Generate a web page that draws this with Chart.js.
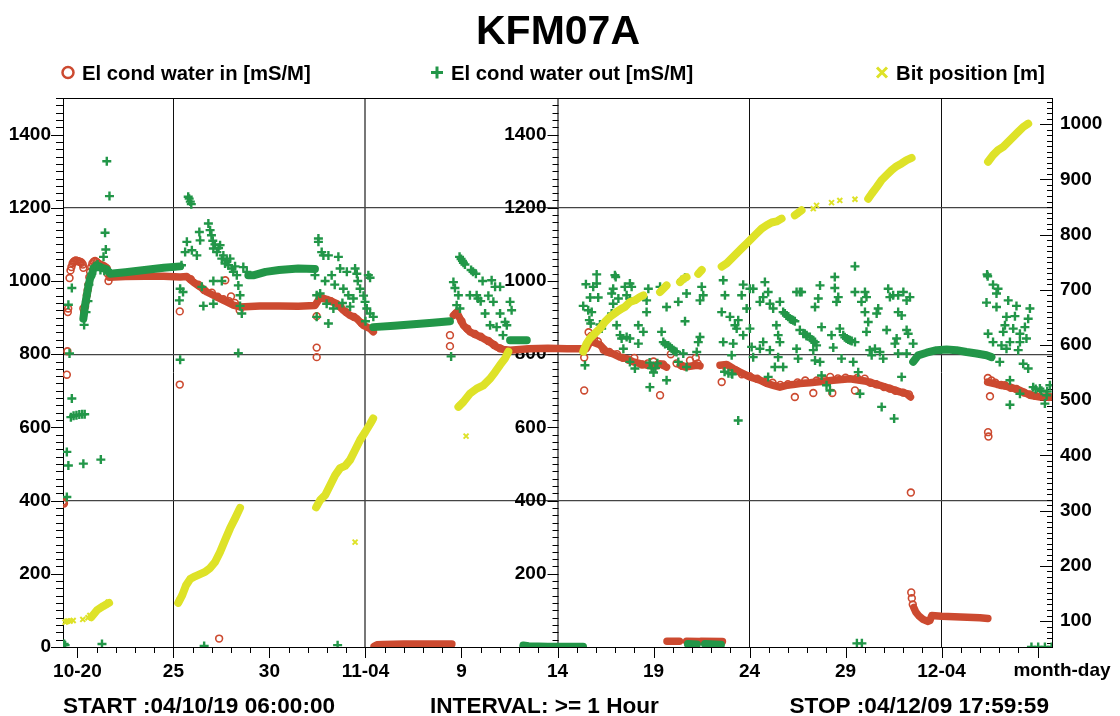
<!DOCTYPE html>
<html>
<head>
<meta charset="utf-8">
<title>KFM07A</title>
<script src="https://cdn.jsdelivr.net/npm/chart.js@4.4.1/dist/chart.umd.min.js"></script>
<style>
  html, body { margin: 0; padding: 0; background: #fff; }
  canvas { display: block; }
</style>
</head>
<body>
<canvas id="chart" width="1120" height="716"></canvas>
<script>
// x values are days after 2004-10-19 00:00 (0.25 = start 06:00)
const titleText = 'KFM07A';
const seriesNames = ['El cond water in [mS/M]', 'El cond water out [mS/M]', 'Bit position [m]'];
const footerTexts = ['START :04/10/19 06:00:00', 'INTERVAL: >= 1 Hour', 'STOP :04/12/09 17:59:59'];
const labelDays = [1, 6, 11, 16, 21, 26, 31, 36, 41, 46];
const dayTickLabels = ['10-20', '25', '30', '11-04', '9', '14', '19', '24', '29', '12-04'];
const gridDays = [6, 16, 26, 36, 46];
const leftTicks = [0, 200, 400, 600, 800, 1000, 1200, 1400];
const gridValues = [400, 800, 1200];
const rightTicks = [100, 200, 300, 400, 500, 600, 700, 800, 900, 1000];

// El cond water in - single readings
const condInPoints = [
  [0.26,394],[0.27,398],[0.30,392],[0.45,744],[0.48,808],[0.50,915],[0.52,925],[0.59,1008],[0.64,1029],[0.69,1038],[0.75,1048],
  [0.80,1052],[0.86,1055],[0.92,1056],[0.98,1055],[1.04,1054],[1.10,1053],[1.16,1052],[1.22,1050],[1.28,1045],[1.31,1036],
  [1.31,925],[1.35,915],[1.40,930],[1.45,945],[1.49,961],[1.53,975],[1.57,990],[1.62,1010],[1.66,1025],[1.72,1038],[1.78,1048],
  [1.85,1053],[1.92,1055],[2.00,1052],[2.08,1048],[2.16,1045],[2.24,1043],[2.32,1042],[2.40,1040],[2.48,1036],[2.53,1034],[2.58,1020],[2.62,1000],
  [6.33,917],[6.33,717],[8.38,23],[8.70,1002],[9.00,958],[9.45,920],[13.46,904],[13.46,818],[13.46,792],[20.40,852],[20.40,822],
  [27.39,791],[27.39,701],[31.34,688],[34.55,724],[38.36,683],[39.32,694],[40.31,694],[41.49,701],[44.40,422],
  [48.41,735],[48.52,685],[48.42,587],[48.44,575],[44.42,149],[44.45,133],[44.50,116],
  [6.9,1005],[7.3,990],[7.6,975],[8.0,968],[8.3,957],[8.6,950],[8.9,945],[9.2,940],[14.2,945],[14.7,930],[15.0,915],[15.4,902],[15.8,885],
  [20.7,910],[21.0,890],[21.3,870],[21.7,855],[22.0,848],[22.4,836],[22.7,825],[23.0,816],
  [27.62,860],[27.75,850],[27.9,842],[28.1,835],[28.4,812],[28.7,806],[29.1,800],[29.4,790],[29.7,785],[30.0,790],[30.4,772],[30.7,775],
  [31.0,780],[31.2,770],[31.5,772],[31.9,800],[32.2,775],[32.5,768],[32.9,783],[33.2,790],[33.3,775],
  [34.8,760],[35.3,755],[35.6,745],[36.0,740],[36.4,733],[36.8,725],[37.2,722],[37.6,716],[38.0,718],[38.5,723],[38.9,728],[39.5,728],
  [39.9,730],[40.2,738],[40.6,734],[41.0,736],[41.6,735],[42.0,733],[42.3,722],[42.6,718],[43.0,710],[43.3,706],[43.6,700],[44.0,695],[44.3,690],
  [48.6,728],[48.8,722],[49.1,716],[49.3,715],[49.6,708],[49.9,705],[50.3,695],[50.6,690],[50.9,686],[51.3,690],[51.6,683]
];
// El cond water in - dense hourly runs (null = gap)
const condInRuns = [
  [2.66,1010],[3.5,1012],[4.5,1013],[5.5,1013],[6.35,1011],[6.70,1012],[7.04,997],[7.39,984],[7.74,970],[8.08,961],[8.43,952],[8.78,943],
  [9.12,934],[9.47,929],[10.5,932],[11.5,932],[12.5,931],[13.37,933],[13.64,955],[13.98,950],[14.51,938],[14.85,920],[15.20,906],
  [15.55,897],[15.89,879],[16.24,870],[16.41,861], null,
  [16.45,2],[16.6,6],[16.9,7],[18.0,8],[19.0,8],[20.5,8], null,
  [20.58,906],[20.75,915],[21.10,879],[21.44,861],[21.79,852],[22.14,843],[22.49,833],[22.83,820],[23.18,813],[23.53,811],[24.5,815],
  [25.5,816],[26.5,815],[27.5,815],[27.7,835],[27.9,832],[28.2,826],[28.56,806],[28.90,801],[29.25,792],[29.60,788],[29.95,779],
  [30.30,774],[30.64,770],[30.99,768],[31.33,774],[31.68,765], null,
  [32.38,770],[32.64,765],[33.25,770],[33.42,768], null,
  [34.46,770],[34.81,772],[35.15,761],[35.50,751],[35.85,742],[36.19,735],[36.54,729],[36.89,720],[37.23,715],[37.58,710],[37.93,715],
  [38.27,717],[38.62,720],[39.14,722],[39.49,724],[40.36,729],[41.23,733],[42.09,726],[42.79,715],[43.31,706],[43.83,697],[44.18,692],[44.38,683], null,
  [31.70,16],[32.35,16], null, [32.72,16],[33.38,15], null, [33.47,16],[34.59,15], null,
  [44.55,108],[44.65,96],[44.8,86],[45.05,75],[45.3,70],[45.39,72],[45.49,86],[46.0,84],[47.0,82],[48.0,80],[48.41,78], null,
  [48.40,724],[48.86,718],[49.56,710],[50.08,701],[50.60,688],[51.13,683],[51.73,683]
];

// El cond water out - single readings
const condOutPoints = [
  [0.26,5],[0.31,8],[0.36,5],[0.45,533],[0.53,496],[0.45,410],[0.53,935],[0.59,802],[0.71,981],[0.71,679],
  [0.66,628],[0.80,632],[0.95,633],[1.10,635],[1.25,636],[1.38,636],[1.31,501],[2.22,512],[2.28,8],
  [1.35,880],[1.45,915],[1.55,945],[1.60,990],[1.75,1020],[1.90,1040],[2.05,1045],[2.20,1030],[2.40,1028],
  [2.53,1327],[2.67,1232],[2.44,1132],[2.48,1086],[2.36,1066],
  [6.31,947],[6.35,979],[6.35,785],[6.42,1043],[6.50,970],[6.61,1079],[6.70,1107],[6.77,1230],[6.82,1225],[6.88,1217],[6.93,1210],
  [6.96,1084],[7.22,1070],[7.35,1134],[7.39,1111],[7.48,984],[7.56,932],[7.60,3],
  [7.82,1157],[7.91,1139],[7.98,1125],[8.05,1110],[8.08,1089],[8.16,1100],[8.26,1079],[8.35,1090],[8.43,1098],[8.52,1061],[8.60,1070],
  [8.69,1048],[8.78,1056],[8.86,1043],[8.95,1061],[9.04,1034],[9.12,1025],[9.21,1040],[9.30,1016],[9.38,988],[9.38,803],[9.47,961],
  [9.47,932],[9.56,911],[9.64,1038],[9.82,1025],[8.08,938],[8.08,1000],[8.52,1000],
  [13.37,1016],[13.46,961],[13.46,902],[13.55,1116],[13.55,1107],[13.64,966],[13.72,1079],[13.81,1070],[13.90,1000],[13.98,938],
  [14.07,1070],[14.07,884],[14.24,1016],[14.33,925],[14.40,990],[14.55,5],[14.59,1066],[14.68,1034],[14.80,940],[14.85,979],[15.03,1025],
  [15.11,961],[15.20,930],[15.37,952],[15.46,1034],[15.55,1020],[15.60,1000],[15.72,979],[15.90,960],[15.98,943],[16.00,890],[16.07,925],
  [16.15,1016],[16.24,1009],[16.24,911],[16.41,902],
  [20.46,794],[20.58,997],[20.66,981],[20.75,934],[20.84,961],[20.90,1066],[20.92,925],[20.98,1060],[21.05,1055],[21.10,1050],[21.18,1045],
  [21.44,961],[21.50,1030],[21.60,1025],[21.75,1020],[21.79,961],[21.86,952],[22.00,945],[22.23,911],[22.49,879],[22.57,1002],[22.66,943],
  [22.75,984],[22.83,874],[23.01,984],[23.01,911],[23.16,852],[23.27,888],[23.36,879],[23.53,943],[23.61,920],[22.40,960],[22.10,1000],
  [27.34,932],[27.43,770],[27.48,991],[27.60,920],[27.66,893],[27.70,955],[27.73,884],[27.78,915],[27.86,984],[28.04,1018],[28.04,993],
  [28.12,955],[28.21,881],[28.30,870],[28.82,966],[28.82,911],[28.90,979],[28.90,938],[28.99,1016],[29.03,1011],[29.08,879],[29.17,952],
  [29.26,852],[29.34,843],[29.43,815],[29.51,984],[29.60,961],[29.60,847],[29.77,993],[29.77,952],[29.77,843],[29.77,779],[29.86,984],
  [30.03,761],[30.21,879],[30.21,829],[30.47,861],[30.64,915],[30.64,947],[30.73,979],[30.81,710],
  [30.80,777],[30.90,762],[31.00,750],[31.10,762],[31.20,775],
  [31.34,984],[31.42,861],[31.51,833],[31.60,828],[31.68,929],[31.68,729],[31.77,824],[31.86,820],[31.95,815],[32.03,811],[32.12,808],
  [32.20,806],[32.29,943],[32.29,779],[32.46,1002],[32.55,802],[32.64,1009],[32.64,890],[32.72,966],[32.72,765],[33.25,806],[33.33,833],
  [33.42,847],[33.42,947],[33.51,984],[33.59,961],
  [34.55,915],[34.63,1002],[34.63,833],[34.70,752],[34.72,961],[34.90,748],[34.98,902],[35.07,797],[35.07,747],[35.10,745],[35.15,829],
  [35.24,879],[35.33,870],[35.41,893],[35.41,619],[35.59,961],[35.67,990],[35.67,852],[35.85,925],[36.02,979],[36.02,870],[36.11,820],
  [36.19,979],[36.19,792],[36.54,943],[36.54,815],[36.71,956],[36.71,833],[36.80,997],[36.97,970],[36.97,738],[37.06,938],[37.06,811],
  [37.23,925],[37.32,765],[37.40,879],[37.49,852],[37.49,792],[37.58,943],[37.58,833],[37.75,915],[37.75,765],[37.84,911],[37.93,906],
  [38.01,902],[38.10,897],[38.18,895],[38.27,893],[38.36,890],[38.45,970],[38.45,815],[38.53,788],[38.62,970],[38.80,856],[38.97,852],
  [38.71,970],[38.62,866],[38.88,856],[38.97,850],[39.14,847],[39.23,840],[39.32,836],[39.41,833],[39.41,929],[39.49,824],[39.67,988],
  [39.67,779],[39.58,952],[39.75,874],[39.75,742],[39.32,811],[39.41,783],[40.01,715],[40.19,701],[40.27,852],[40.36,818],[40.44,1011],
  [40.44,981],[40.53,943],[40.62,956],[40.70,870],[40.79,788],[40.88,852],[40.96,846],[41.05,843],[41.14,840],[41.23,838],[41.32,836],
  [41.49,833],[41.49,1040],[41.49,970],[41.40,779],[41.66,751],[41.75,692],[41.83,943],[42.01,970],[42.01,915],[42.09,956],[42.09,861],
  [42.18,888],[42.26,811],[42.36,797],[42.53,815],[42.62,911],[42.70,925],[42.79,806],[42.88,656],[42.96,788],[43.14,866],[43.22,979],
  [43.31,956],[43.48,961],[43.53,624],[43.57,829],[43.66,843],[43.74,961],[43.74,915],[43.74,802],[43.92,906],[43.92,738],[44.01,970],
  [44.18,947],[44.18,866],[44.18,802],[44.26,856],[44.35,956],[44.52,829],
  [48.34,941],[48.37,1018],[48.40,1013],[48.42,856],[48.68,990],[48.68,833],[48.86,966],[48.86,929],[48.94,979],[49.03,779],[49.12,824],
  [49.21,861],[49.30,879],[49.38,902],[49.38,815],[49.47,947],[49.56,833],[49.56,729],[49.56,662],[49.73,870],[49.82,904],[49.90,932],
  [49.99,811],[50.08,856],[50.08,833],[50.08,692],[50.25,774],[50.34,874],[50.42,843],[50.51,897],[50.51,761],[50.60,925],[50.77,710],
  [50.90,705],[51.12,706],[51.20,700],[51.38,665],[51.47,688],[51.50,698],[51.64,715],
  [41.59,10],[41.85,10],[50.68,0],[51.03,0],[51.38,0],[51.73,0]
];
// El cond water out - dense hourly runs
const condOutRuns = [
  [1.31,897],[1.40,934],[1.49,961],[1.57,984],[1.66,1007],[1.75,1016],[1.83,1034],[2.01,1043],[2.27,1036],[2.53,1032],[2.70,1020],
  [3.5,1024],[4.5,1030],[5.5,1036],[6.35,1040], null,
  [9.90,1016],[10.2,1016],[10.8,1025],[11.5,1030],[12.5,1034],[13.37,1033], null,
  [16.41,874],[17.5,878],[18.5,882],[19.5,886],[20.40,890], null,
  [23.53,838],[24.40,838], null,
  [24.22,4],[24.5,2],[25.5,1],[26.5,1],[27.33,1], null,
  [32.79,8],[33.26,7], null, [33.68,8],[34.51,6], null,
  [44.52,779],[44.78,797],[45.22,804],[45.74,811],[46.26,813],[46.78,811],[47.30,806],[47.82,802],[48.34,797],[48.60,792]
];

// Bit position - single readings
const bitPoints = [
  [0.36,98],[0.42,99],[0.50,100],[0.62,100],[0.78,101],[1.28,103],[1.55,106],[1.65,110],[2.50,130],[2.60,134],
  [6.30,138],[9.40,300],[13.50,310],[16.35,463],[20.90,490],[23.40,585],
  [15.46,243],[21.24,435],[38.50,838],[39.32,847],[39.49,853],[40.27,858],[40.70,862],[41.49,864],[51.53,1130]
];
// Bit position - dense hourly runs
const bitRuns = [
  [1.72,107],[2.03,120],[2.34,127],[2.65,133], null,
  [6.25,133],[6.46,147],[6.66,165],[6.87,176],[7.13,181],[7.39,185],[7.65,189],[7.91,196],[8.17,207],[8.43,225],[8.69,247],[8.95,268],
  [9.21,286],[9.47,305], null,
  [13.43,306],[13.64,319],[13.90,328],[14.16,346],[14.42,364],[14.68,377],[14.94,381],[15.20,392],[15.46,410],[15.72,428],[15.98,442],
  [16.24,457],[16.40,467], null,
  [20.84,488],[21.10,497],[21.44,512],[21.79,521],[22.14,527],[22.49,539],[22.75,551],[23.01,564],[23.27,576],[23.44,588], null,
  [27.34,588],[27.52,603],[27.69,612],[27.95,621],[28.21,630],[28.47,642],[28.73,651],[29.08,660],[29.34,666],[29.51,669],[29.77,678],
  [30.03,681],[30.29,687],[30.47,690], null,
  [31.34,696],[31.51,702],[31.68,708], null,
  [32.38,714],[32.55,720],[32.72,723], null,
  [33.33,729],[33.51,736], null,
  [34.55,742],[34.81,748],[35.07,757],[35.33,766],[35.59,775],[35.85,784],[36.11,793],[36.37,802],[36.63,811],[36.89,817],[37.15,822],
  [37.41,824],[37.67,829], null,
  [38.36,835],[38.71,844], null,
  [42.18,865],[42.36,874],[42.62,886],[42.88,899],[43.14,908],[43.40,917],[43.66,924],[43.92,929],[44.18,935],[44.44,939], null,
  [48.42,932],[48.68,944],[48.94,953],[49.21,959],[49.47,968],[49.73,977],[49.99,986],[50.25,995],[50.51,1001]
];

const FONT = '"Liberation Sans", Arial, Helvetica, sans-serif';
const RED = 'rgb(204,74,48)';
const GREEN = 'rgb(34,150,72)';
const YELLOW = 'rgb(222,226,40)';
const NONE = 'rgba(0,0,0,0)';

function toPoints(pairs) {
  let lastX = 0;
  return pairs.map(p => {
    if (p === null) return { x: lastX, y: null };
    lastX = p[0];
    return { x: p[0], y: p[1] };
  });
}

function markSet(label, pairs, color, style, radius, width, axis) {
  return {
    label: label, data: toPoints(pairs), yAxisID: axis, showLine: false,
    pointStyle: style, pointRadius: radius, pointHoverRadius: radius, pointBorderWidth: width,
    pointBorderColor: color, pointBackgroundColor: NONE, borderColor: color, backgroundColor: NONE
  };
}

function runSet(label, pairs, color, width, axis) {
  return {
    label: label, data: toPoints(pairs), yAxisID: axis, showLine: true, spanGaps: false,
    pointRadius: 0, pointHoverRadius: 0, borderColor: color, backgroundColor: NONE, borderWidth: width,
    borderCapStyle: 'round', borderJoinStyle: 'round', fill: false
  };
}

const allDays = [];
for (let d = 1; d <= 51; d++) allDays.push(d);

const decor = {
  id: 'decor',
  beforeDatasetsDraw(chart) {
    const ctx = chart.ctx, a = chart.chartArea;
    const x = chart.scales.x, y = chart.scales.y, y2 = chart.scales.y2;
    const xm = Math.round(x.getPixelForValue(26)) + 0.5;
    ctx.save();
    ctx.strokeStyle = '#000';
    ctx.lineWidth = 1;
    ctx.beginPath();
    allDays.forEach(d => {
      const px = Math.round(x.getPixelForValue(d)) + 0.5;
      const len = labelDays.includes(d) || d === 51 ? 11 : 6;
      ctx.moveTo(px, a.bottom); ctx.lineTo(px, a.bottom + len);
    });
    for (let v = 0; v <= 1500; v += 20) {
      const py = Math.round(y.getPixelForValue(v)) + 0.5;
      const len = v % 200 === 0 ? 12 : 7;
      ctx.moveTo(a.left - len, py); ctx.lineTo(a.left, py);
      ctx.moveTo(xm - len + 1, py); ctx.lineTo(xm, py);
    }
    for (let v = 60; v <= 1040; v += 10) {
      const py = Math.round(y2.getPixelForValue(v)) + 0.5;
      const len = v % 100 === 0 ? 12 : 5;
      ctx.moveTo(a.right - len, py); ctx.lineTo(a.right, py);
    }
    ctx.stroke();
    ctx.strokeRect(Math.round(a.left) + 0.5, Math.round(a.top) + 0.5, Math.round(a.right - a.left), Math.round(a.bottom - a.top));

    // repeated left scale at 11-14
    ctx.fillStyle = '#000';
    ctx.font = 'bold 19px ' + FONT;
    ctx.textAlign = 'right';
    ctx.textBaseline = 'middle';
    leftTicks.filter(v => v > 0).forEach(v => ctx.fillText(String(v), xm - 12, y.getPixelForValue(v)));
    ctx.restore();
  },
  afterDraw(chart) {
    const ctx = chart.ctx, a = chart.chartArea;
    ctx.save();
    ctx.fillStyle = '#000';
    ctx.textBaseline = 'alphabetic';
    ctx.textAlign = 'center';
    ctx.font = 'bold 41px ' + FONT;
    ctx.fillText(titleText, 558, 44);

    // legend
    const items = [
      { x: 68, color: RED, style: 'circle' },
      { x: 437, color: GREEN, style: 'cross' },
      { x: 882, color: YELLOW, style: 'crossRot' }
    ];
    const ly = 72.5;
    items.forEach((it, i) => {
      ctx.strokeStyle = it.color;
      ctx.beginPath();
      if (it.style === 'circle') {
        ctx.lineWidth = 2.5;
        ctx.arc(it.x, ly, 5.5, 0, Math.PI * 2);
      } else if (it.style === 'cross') {
        ctx.lineWidth = 3;
        ctx.moveTo(it.x - 6, ly); ctx.lineTo(it.x + 6, ly);
        ctx.moveTo(it.x, ly - 6); ctx.lineTo(it.x, ly + 6);
      } else {
        ctx.lineWidth = 3;
        ctx.moveTo(it.x - 5, ly - 5); ctx.lineTo(it.x + 5, ly + 5);
        ctx.moveTo(it.x + 5, ly - 5); ctx.lineTo(it.x - 5, ly + 5);
      }
      ctx.stroke();
      ctx.fillStyle = '#000';
      ctx.textAlign = 'left';
      ctx.font = 'bold 20.3px ' + FONT;
      ctx.fillText(seriesNames[i], it.x + 14, 80);
    });

    ctx.font = 'bold 19px ' + FONT;
    ctx.textAlign = 'center';
    ctx.textBaseline = 'middle';
    ctx.fillText('month-day', 1062, 671);

    ctx.font = 'bold 22.6px ' + FONT;
    ctx.textBaseline = 'alphabetic';
    ctx.textAlign = 'left';
    ctx.fillText(footerTexts[0], a.left, 713);
    ctx.fillText(footerTexts[1], 430, 713);
    ctx.textAlign = 'right';
    ctx.fillText(footerTexts[2], a.right - 3, 713);
    ctx.restore();
  }
};

const tickFont = { family: FONT, size: 19, weight: 'bold' };

const bitMarks = markSet(seriesNames[2], bitPoints, YELLOW, 'crossRot', 3.5, 2, 'y2');
bitMarks.clip = false;

new Chart(document.getElementById('chart'), {
  type: 'scatter',
  data: {
    datasets: [
      bitMarks,
      runSet(seriesNames[2], bitRuns, YELLOW, 8, 'y2'),
      markSet(seriesNames[1], condOutPoints, GREEN, 'cross', 4.5, 2.4, 'y'),
      runSet(seriesNames[1], condOutRuns, GREEN, 8, 'y'),
      markSet(seriesNames[0], condInPoints, RED, 'circle', 3.4, 1.6, 'y'),
      runSet(seriesNames[0], condInRuns, RED, 7.5, 'y')
    ]
  },
  options: {
    responsive: false,
    animation: false,
    events: [],
    layout: { padding: { top: 98, left: 0, right: 0, bottom: 0 } },
    plugins: {
      legend: { display: false },
      title: { display: false },
      tooltip: { enabled: false }
    },
    scales: {
      x: {
        type: 'linear', position: 'bottom', min: 0.25, max: 51.75,
        afterBuildTicks: s => { s.ticks = allDays.map(v => ({ value: v })); },
        afterFit: s => { s.height = 69; },
        ticks: {
          autoSkip: false, maxRotation: 0, minRotation: 0, padding: 13, color: '#000', font: tickFont,
          callback: v => { const i = labelDays.indexOf(v); return i >= 0 ? dayTickLabels[i] : ''; }
        },
        grid: {
          drawTicks: false,
          color: c => {
            const v = c.tick ? c.tick.value : null;
            if (!gridDays.includes(v)) return NONE;
            return v === 16 || v === 26 ? '#777' : '#111';
          },
          lineWidth: c => (c.tick && (c.tick.value === 16 || c.tick.value === 26)) ? 2 : 1
        },
        border: { display: true, color: '#000', width: 1 }
      },
      y: {
        type: 'linear', position: 'left', min: 0, max: 1500,
        afterBuildTicks: s => { s.ticks = leftTicks.map(v => ({ value: v })); },
        afterFit: s => { s.width = 63; },
        ticks: { padding: 12, color: '#000', font: tickFont, callback: v => String(v) },
        grid: {
          drawTicks: false,
          color: c => (c.tick && gridValues.includes(c.tick.value)) ? '#444' : NONE,
          lineWidth: 1.3
        },
        border: { display: true, color: '#000', width: 1 }
      },
      y2: {
        type: 'linear', position: 'right', min: 53, max: 1047.5,
        afterBuildTicks: s => { s.ticks = rightTicks.map(v => ({ value: v })); },
        afterFit: s => { s.width = 68; },
        ticks: { padding: 8, color: '#000', font: tickFont, callback: v => String(v) },
        grid: { drawOnChartArea: false, drawTicks: false },
        border: { display: true, color: '#000', width: 1 }
      }
    }
  },
  plugins: [decor]
});
</script>
</body>
</html>
